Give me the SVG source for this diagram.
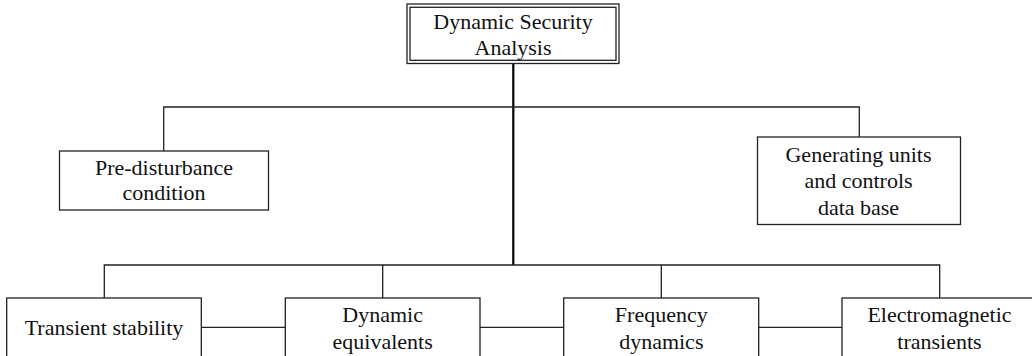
<svg xmlns="http://www.w3.org/2000/svg" width="1032" height="356" viewBox="0 0 1032 356">
<style>
.box{fill:#fff;stroke:#222;stroke-width:1.3}
.ln{fill:none;stroke:#222;stroke-width:1.3}
.main{fill:none;stroke:#000;stroke-width:2.2}
text{font-family:"Liberation Serif","Times New Roman",serif;font-size:22px;fill:#111;text-anchor:middle}
</style>
<rect width="1032" height="356" fill="#fff"/>
<g id="connectors">
<path class="main" d="M513.3,63 V265"/>
<path class="ln" d="M163.7,151 V107 H859.3 V137"/>
<path class="ln" d="M104.3,298 V265 H939.7 V298"/>
<path class="ln" d="M382.7,265 V298 M661.3,265 V298"/>
<path class="ln" d="M201.3,327.3 H285.3 M480,327.3 H563.7 M758.7,327.3 H842"/>
</g>
<g id="dsa">
<rect class="box" x="407" y="4" width="212" height="59.5"/>
<rect class="box" x="410" y="7.3" width="206" height="53"/>
<text x="513" y="29">Dynamic Security</text>
<text x="513" y="55">Analysis</text>
</g>
<g id="pre">
<rect class="box" x="59.5" y="151" width="209" height="59"/>
<text x="164" y="175">Pre-disturbance</text>
<text x="164" y="200">condition</text>
</g>
<g id="gen">
<rect class="box" x="757.5" y="137" width="203" height="87.5"/>
<text x="858.5" y="161.5">Generating units</text>
<text x="858.5" y="188.3">and controls</text>
<text x="858.5" y="215">data base</text>
</g>
<g id="transient">
<rect class="box" x="6.7" y="298" width="194.6" height="70"/>
<text x="104" y="334.5">Transient stability</text>
</g>
<g id="equiv">
<rect class="box" x="285.3" y="298" width="194.7" height="70"/>
<text x="382.7" y="322">Dynamic</text>
<text x="382.7" y="348.5">equivalents</text>
</g>
<g id="freq">
<rect class="box" x="563.7" y="298" width="195" height="70"/>
<text x="661.3" y="322">Frequency</text>
<text x="661.3" y="348.5">dynamics</text>
</g>
<g id="em">
<rect class="box" x="842" y="298" width="195" height="70"/>
<text x="939.5" y="322">Electromagnetic</text>
<text x="939.5" y="348.5">transients</text>
</g>
</svg>
